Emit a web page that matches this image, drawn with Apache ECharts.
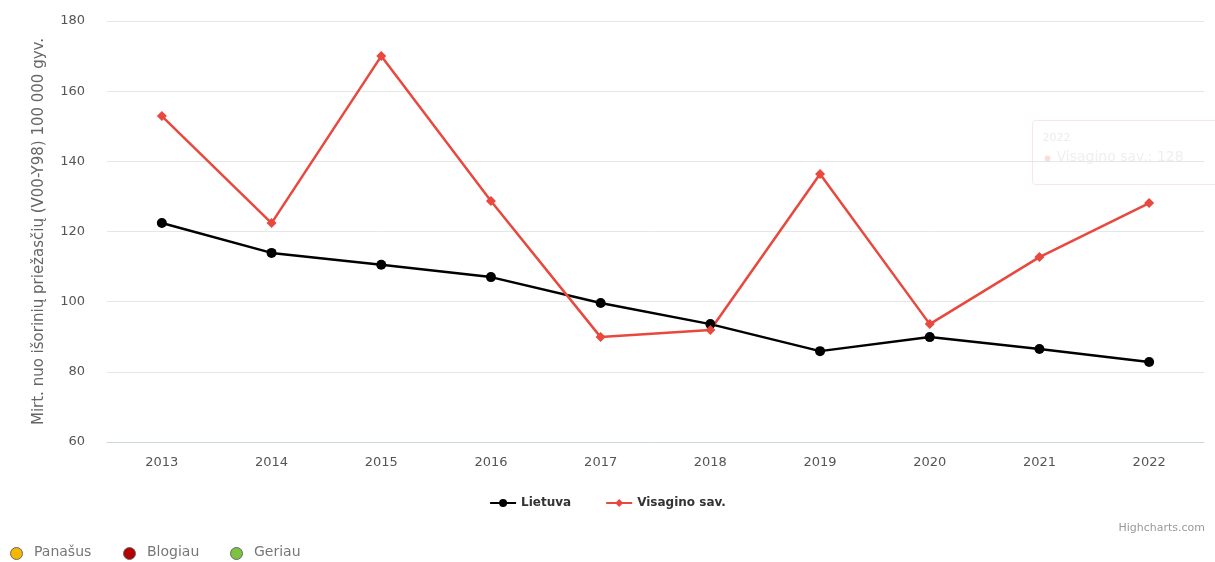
<!DOCTYPE html>
<html>
<head>
<meta charset="utf-8">
<style>
  html, body { margin: 0; padding: 0; background: #fff; }
  #chart { width: 1215px; height: 562px; }
</style>
<script src="https://cdn.jsdelivr.net/npm/echarts@6/dist/echarts.min.js"></script>
</head>
<body>
<div id="chart"></div>
<script>
var years = ['2013', '2014', '2015', '2016', '2017', '2018', '2019', '2020', '2021', '2022'];
var lietuva = [122.4, 113.9, 110.5, 107.0, 99.6, 93.6, 85.9, 89.9, 86.5, 82.8];
var visagino = [152.9, 122.4, 170.0, 128.7, 89.9, 91.9, 136.4, 93.6, 112.7, 128.1];
var yTitle = 'Mirt. nuo išorinių priežasčių (V00-Y98) 100 000 gyv.';
var statusNames = ['Panašus', 'Blogiau', 'Geriau'];
var statusColors = ['#f5b700', '#b30000', '#7cc342'];
var statusX = [16, 129, 236];

var font = '"DejaVu Sans", Verdana, sans-serif';

var chart = echarts.init(document.getElementById('chart'));

var graphics = [];
statusNames.forEach(function (name, i) {
    graphics.push({
        type: 'circle', left: statusX[i] - 6, top: 547,
        shape: { r: 6 },
        style: { fill: statusColors[i], stroke: '#666', lineWidth: 1 }
    });
    graphics.push({
        type: 'text', left: statusX[i] + 18, top: 545,
        style: { text: name, fill: '#777', font: '14px ' + font }
    });
});
graphics.push({
    type: 'text', right: 10, top: 523,
    style: { text: 'Highcharts.com', fill: '#999', font: '11px ' + font }
});
// faded tooltip left over in the screenshot
graphics.push({
    type: 'group', left: 1032, top: 120, silent: true,
    children: [
        { type: 'rect', shape: { x: 0, y: 0, width: 190, height: 64, r: 3 },
          style: { fill: '#fff', stroke: '#f8e0de', lineWidth: 1, opacity: 0.8 } },
        { type: 'text', x: 10, y: 12, style: { text: '2022', fill: '#ececec', font: '11px ' + font } },
        { type: 'circle', shape: { cx: 15, cy: 38, r: 3 }, style: { fill: '#f9dedc' } },
        { type: 'text', x: 24, y: 30, style: { text: 'Visagino sav.: 128', fill: '#efefef', font: '14px ' + font } }
    ]
});

chart.setOption({
    animation: false,
    grid: { left: 107, right: 11, top: 21, bottom: 120 },
    legend: {
        bottom: 48,
        left: 'center',
        itemWidth: 26,
        itemHeight: 10,
        itemGap: 34,
        textStyle: { color: '#333', fontWeight: 'bold', fontSize: 12, fontFamily: font },
        data: ['Lietuva', 'Visagino sav.']
    },
    xAxis: {
        type: 'category',
        data: years,
        boundaryGap: true,
        axisLine: { lineStyle: { color: '#ccd6eb' } },
        axisTick: { show: false },
        axisLabel: { color: '#555', fontSize: 13, margin: 14, fontFamily: font }
    },
    yAxis: {
        type: 'value',
        min: 60,
        max: 180,
        interval: 20,
        name: yTitle,
        nameLocation: 'middle',
        nameGap: 60,
        nameTextStyle: { color: '#666', fontSize: 15, fontFamily: font },
        axisLine: { show: false },
        axisTick: { show: false },
        axisLabel: { color: '#555', fontSize: 13, margin: 22, fontFamily: font },
        splitLine: { lineStyle: { color: '#e6e6e6' } }
    },
    series: [
        {
            name: 'Lietuva',
            type: 'line',
            data: lietuva,
            color: '#000000',
            symbol: 'circle',
            symbolSize: 10,
            lineStyle: { width: 2.5 }
        },
        {
            name: 'Visagino sav.',
            type: 'line',
            data: visagino,
            color: '#e8483d',
            symbol: 'diamond',
            symbolSize: 10,
            lineStyle: { width: 2.5 }
        }
    ],
    graphic: graphics
});
</script>
</body>
</html>
